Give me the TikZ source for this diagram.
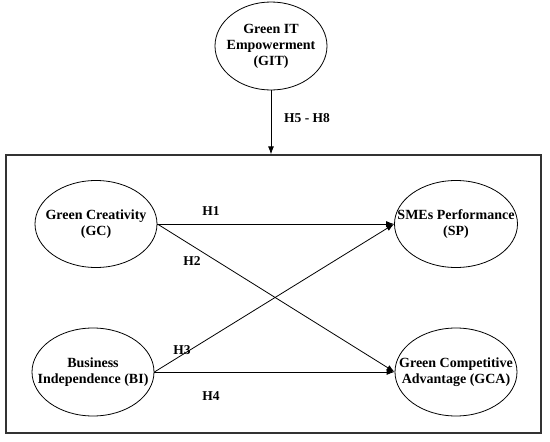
\documentclass[tikz,border=0pt]{standalone}
\usepackage{fontspec}
\setmainfont{Liberation Serif}
\usetikzlibrary{shapes.geometric,arrows.meta}
\tikzset{
  construct/.style={ellipse, draw=black, line width=0.8pt, inner sep=0pt},
  ctext/.style={align=center, inner sep=0pt, font=\fontsize{14}{16}\selectfont\bfseries},
  hyp/.style={font=\fontsize{13.5}{15}\selectfont\bfseries},
  link/.style={line width=0.8pt, -{Latex[length=8pt,width=6pt]}},
}
\begin{document}
\begin{tikzpicture}[x=1pt,y=-1pt]
\useasboundingbox (0,0) rectangle (550,442);
\node[draw=black!80, line width=1.3pt, minimum width=535pt, minimum height=278pt, inner sep=0pt] (frame) at (273.5,294) {};
\node[construct, minimum width=112pt, minimum height=88pt,
  label={[ctext]center:Green IT\\Empowerment\\(GIT)}] (GIT) at (271,46) {};
\node[construct, minimum width=122pt, minimum height=87pt,
  label={[ctext]center:Green Creativity\\(GC)}] (GC) at (96,224) {};
\node[construct, minimum width=122pt, minimum height=88pt,
  label={[ctext]center:Business\\Independence (BI)}] (BI) at (93,372) {};
\node[construct, minimum width=123pt, minimum height=87pt,
  label={[ctext]center:SMEs Performance\\(SP)}] (SP) at (456,224) {};
\node[construct, minimum width=122pt, minimum height=88pt,
  label={[ctext]center:Green Competitive\\Advantage (GCA)}] (GCA) at (456,372) {};
\draw[link] (GIT.south) -- (GIT.south |- frame.north);
\draw[link] (GC.east) -- (SP.west);
\draw[link] (GC.east) -- (GCA.west);
\draw[link] (BI.east) -- (SP.west);
\draw[link] (BI.east) -- (GCA.west);
\node[hyp] (h58) at (307,118) {H5 - H8};
\node[hyp] (h1) at (211,211) {H1};
\node[hyp] (h2) at (192,261) {H2};
\node[hyp] (h3) at (182,350) {H3};
\node[hyp] (h4) at (211,396) {H4};
\end{tikzpicture}
\end{document}
